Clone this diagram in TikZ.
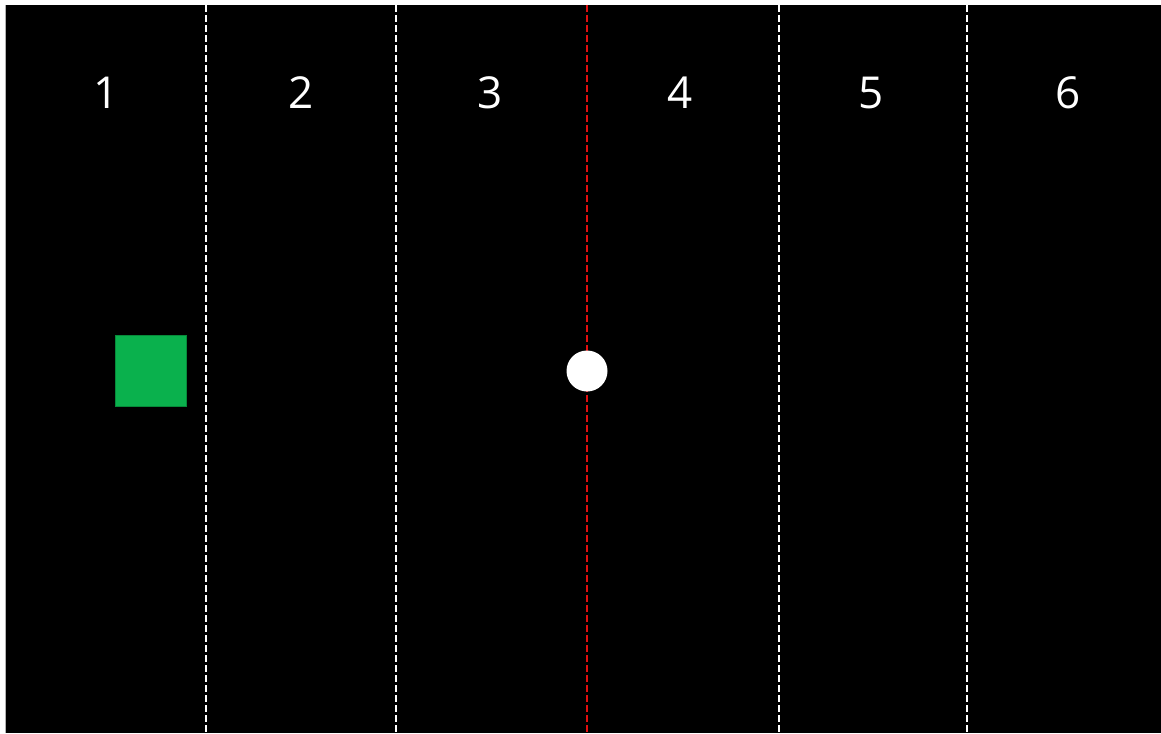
\documentclass[tikz,border=0pt]{standalone}
\usepackage{fontspec}
\setmainfont{Open Sans}
\definecolor{gsq}{HTML}{0AB14D}
\definecolor{gsqb}{HTML}{078A3A}
\definecolor{redl}{HTML}{E01010}
\begin{document}
\begin{tikzpicture}[x=1pt,y=-1pt,
  sep/.style={white,line width=1.8pt,dash pattern=on 7pt off 3pt},
  redsep/.style={redl,line width=1.8pt,dash pattern=on 7pt off 3pt},
  num/.style={text=white,font=\fontsize{44}{44}\selectfont,anchor=center,inner sep=0pt}]
\useasboundingbox (0,0) rectangle (1161,733);
\fill[white] (0,0) rectangle (1161,733);
\fill[black] (5,5) rectangle (1161,733);
\draw[gray!60,line width=1pt] (5.5,5) -- (5.5,733);
\coordinate (t1) at (206,5); \coordinate (b1) at (206,733);
\coordinate (t2) at (396,5); \coordinate (b2) at (396,733);
\coordinate (t3) at (587,5); \coordinate (b3) at (587,733);
\coordinate (t4) at (779,5); \coordinate (b4) at (779,733);
\coordinate (t5) at (967,5); \coordinate (b5) at (967,733);
\draw[sep] (t1) -- (b1);
\draw[sep] (t2) -- (b2);
\draw[redsep] (t3) -- (b3);
\draw[sep] (t4) -- (b4);
\draw[sep] (t5) -- (b5);
\node[num] (n1) at (106,93) {1};
\node[num] (n2) at (301,93) {2};
\node[num] (n3) at (490,93) {3};
\node[num] (n4) at (680,93) {4};
\node[num] (n5) at (871,93) {5};
\node[num] (n6) at (1068,93) {6};
\node[draw=gsqb,fill=gsq,line width=0.8pt,minimum size=71pt,inner sep=0pt] (sq) at (150.5,370.5) {};
\node[circle,fill=white,minimum size=41pt,inner sep=0pt] (dot) at (587,371) {};
\end{tikzpicture}
\end{document}
